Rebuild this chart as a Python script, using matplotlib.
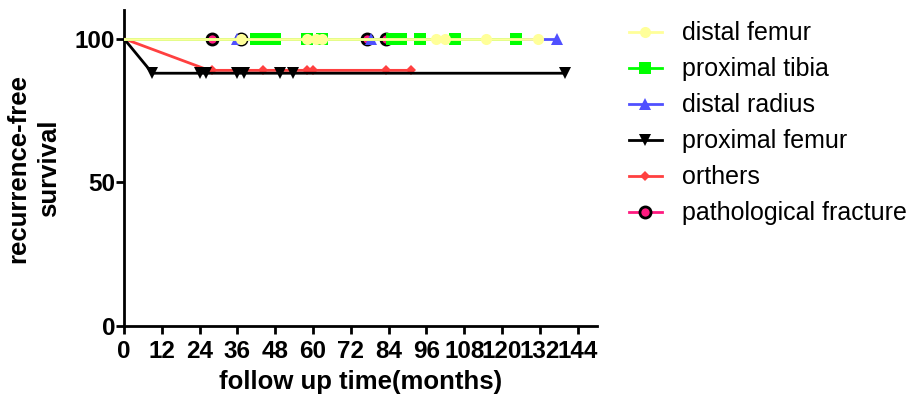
import matplotlib
matplotlib.use('Agg')
import matplotlib.pyplot as plt

plt.rcParams['font.family'] = ['Liberation Sans', 'DejaVu Sans']

# censored / event points (months, % survival)
femur_x = [37, 58, 61, 63, 99, 102, 115, 131.5]
tibia_x = [42, 44, 46, 48, 58, 63, 85, 88, 94, 105, 124.5]
radius_x = [36, 78.5, 137.5]
prox_femur_x = [9, 24, 26, 36, 38, 49.5, 53.5, 140]
prox_femur_y = 88
others_x = [28, 44, 58, 60, 83, 91]
others_y = 89
others_drop = 27
fracture_x = [28, 37, 77, 83]

series = [
    # label, x, y-level, colour, marker
    ('distal femur', femur_x, 100, '#FFFF99', 'o'),
    ('proximal tibia', tibia_x, 100, '#00FF00', 's'),
    ('distal radius', radius_x, 100, '#5050FF', '^'),
    ('proximal femur', prox_femur_x, prox_femur_y, 'black', 'v'),
    ('orthers', others_x, others_y, '#FF4040', 'D'),
    ('pathological fracture', fracture_x, 100, '#FF1A80', 'o'),
]

fig = plt.figure(figsize=(9.14, 4.01), dpi=100)
ax = fig.add_axes([0.1357, 0.187, 0.517, 0.788])

handles = []
for i, (label, xs, lvl, col, mk) in enumerate(series):
    z = 10 - i
    if label == 'proximal femur':
        lx = [0] + xs
        ly = [100] + [lvl] * len(xs)
    elif label == 'orthers':
        lx = [0, others_drop] + xs
        ly = [100, lvl] + [lvl] * len(xs)
    else:
        lx = [0] + xs
        ly = [100] * (len(xs) + 1)
    ax.plot(lx, ly, color=col, lw=2, zorder=z)
    ms = 8
    mew = 0
    mec = col
    if label == 'pathological fracture':
        mec = 'black'
        mew = 2
    if mk == 'D':
        ms = 5.5
    if mk in ('^', 'v'):
        ms = 9
    ax.plot(xs, [lvl] * len(xs), ls='none', marker=mk, color=col, ms=ms,
            mec=mec, mew=mew, zorder=z)
    h, = ax.plot([], [], color=col, lw=2, marker=mk, ms=ms, mec=mec, mew=mew)
    h.set_label(label)
    handles.append(h)

ax.set_xlim(0, 150)
ax.set_ylim(0, 110)
ax.set_xticks(range(0, 145, 12))
ax.set_yticks([0, 50, 100])
for s in ['top', 'right']:
    ax.spines[s].set_visible(False)
for s in ['left', 'bottom']:
    ax.spines[s].set_linewidth(2)
ax.tick_params(width=2, length=6, labelsize=17.5)
ax.tick_params(axis='x', pad=4)
ax.tick_params(axis='y', pad=0.5)
for lab in ax.get_xticklabels() + ax.get_yticklabels():
    lab.set_fontweight('bold')

ax.set_xlabel('follow up time(months)', fontsize=18.5, fontweight='bold', labelpad=5)
ax.set_ylabel('recurrence-free\nsurvival', fontsize=18.5, fontweight='bold', labelpad=10,
              linespacing=1.35)

ax.legend(handles=handles, loc='upper left', bbox_to_anchor=(1.02, 1.035),
          frameon=False, fontsize=18, handlelength=1.35, labelspacing=0.48,
          handletextpad=0.8)

fig.savefig('out.png', dpi=100)
